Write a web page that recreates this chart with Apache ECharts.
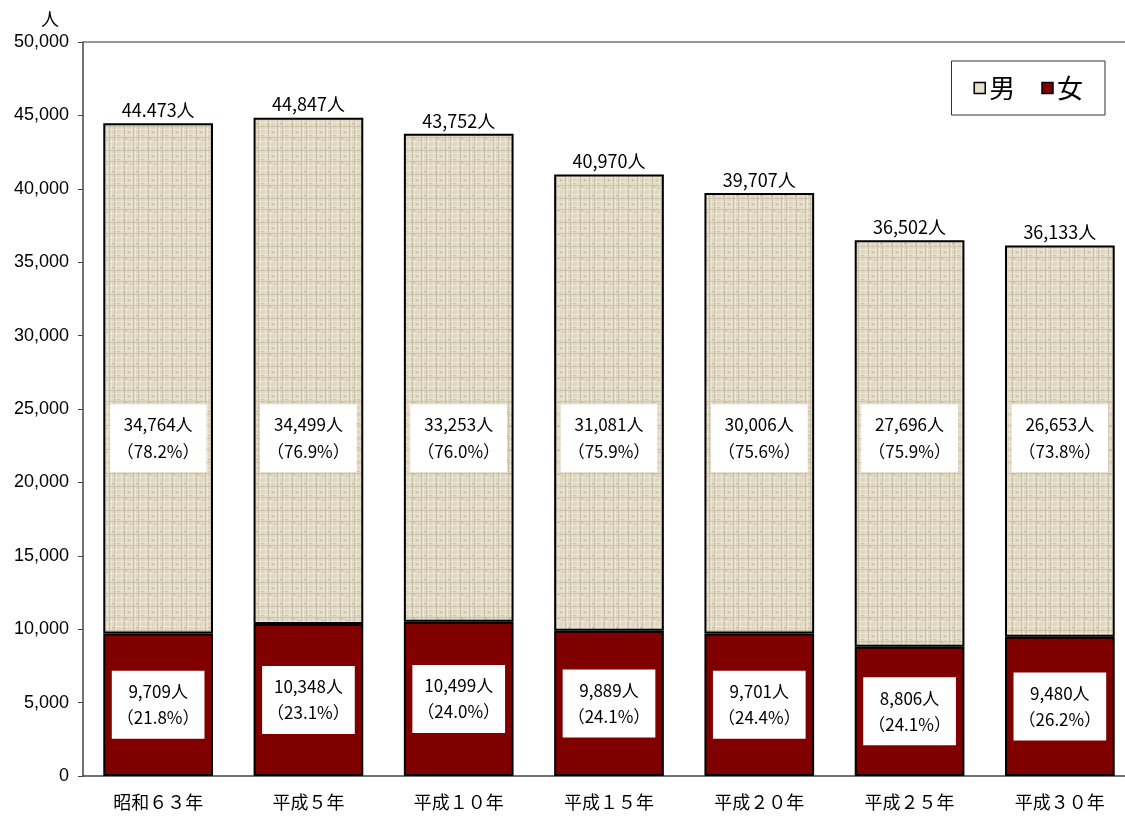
<!DOCTYPE html>
<html><head><meta charset="utf-8">
<script src="https://cdn.jsdelivr.net/npm/echarts@6/dist/echarts.min.js"></script>
<style>html,body{margin:0;padding:0;background:#fff;overflow:hidden}#c{width:1140px;height:816px}</style>
</head><body><div id="c"></div>
<script>
const categories = ['昭和６３年','平成５年','平成１０年','平成１５年','平成２０年','平成２５年','平成３０年'];
const female = [9709, 10348, 10499, 9889, 9701, 8806, 9480];
const male = [34764, 34499, 33253, 31081, 30006, 27696, 26653];
const femalePct = ['21.8','23.1','24.0','24.1','24.4','24.1','26.2'];
const malePct = ['78.2','76.9','76.0','75.9','75.6','75.9','73.8'];
const totalText = ['44.473','44,847','43,752','40,970','39,707','36,502','36,133'];
const maleLabelAnchor = 23000;
const yTicks = {min: 0, max: 50000, interval: 5000};

function fmt(n){ return n.toString().replace(/\B(?=(\d{3})+(?!\d))/g, ','); }

// beige linen texture
function makeTexture(){
  const c = document.createElement('canvas');
  c.width = 24; c.height = 24;
  const g = c.getContext('2d');
  g.fillStyle = '#ded6c0'; g.fillRect(0,0,24,24);
  g.fillStyle = '#ece6d6';
  [1,6,11,15,20].forEach(x => g.fillRect(x,0,1,24));
  [2,9,14,21].forEach(y => g.fillRect(0,y,24,1));
  g.fillStyle = '#cdc3aa';
  [4,13,18].forEach(x => g.fillRect(x,0,1,24));
  [6,17].forEach(y => g.fillRect(0,y,24,1));
  g.fillStyle = '#c2b79b';
  [[3,4],[8,12],[16,3],[21,15],[10,20],[5,18]].forEach(p => g.fillRect(p[0],p[1],2,1));
  return c;
}
const tex = makeTexture();
const font = '"Noto Sans CJK JP", "Noto Sans", sans-serif';

const chart = echarts.init(document.getElementById('c'), null, {renderer:'canvas'});
chart.setOption({
  animation: false,
  grid: {left: 83, right: 5, top: 42, bottom: 40},
  legend: {
    right: 35, top: 61,
    padding: [14, 22, 14, 22],
    borderColor: '#333', borderWidth: 1,
    itemWidth: 11, itemHeight: 11, itemGap: 26,
    icon: 'rect',
    textStyle: {fontSize: 26, color: '#000', fontFamily: font, padding: [0,0,0,-1]},
    data: [
      {name: '男', itemStyle: {color: '#e6dfcc', borderColor: '#000', borderWidth: 1.5}},
      {name: '女', itemStyle: {color: '#800000', borderColor: '#000', borderWidth: 1.5}}
    ]
  },
  xAxis: [{
    type: 'category', data: categories,
    axisLine: {lineStyle: {color: '#444', width: 1.5}},
    axisTick: {show: false},
    axisLabel: {fontSize: 18, color: '#000', fontFamily: font, margin: 17}
  },{
    type: 'category', data: categories, position: 'top',
    axisLine: {lineStyle: {color: '#777', width: 1.5}},
    axisTick: {show: false}, axisLabel: {show: false}
  }],
  yAxis: {
    type: 'value', min: yTicks.min, max: yTicks.max, interval: yTicks.interval,
    name: '人', nameLocation: 'end', nameGap: 14,
    nameTextStyle: {fontSize: 18, color: '#000', fontFamily: font, align: 'right', padding: [0, 24, 0, 0]},
    axisLine: {show: true, lineStyle: {color: '#444', width: 1.5}},
    axisTick: {show: true, inside: false, length: 5, lineStyle: {color: '#444'}},
    splitLine: {show: false},
    axisLabel: {fontSize: 18, color: '#000', fontFamily: '"Liberation Sans", Arial, sans-serif', margin: 14, formatter: v => fmt(v)}
  },
  series: [
    {
      name: '女', type: 'bar', stack: 't', barWidth: '73%',
      data: female,
      itemStyle: {color: '#800000', borderColor: '#000', borderWidth: 2},
      label: {
        show: true, position: 'inside',
        formatter: p => fmt(p.value) + '人\n（' + femalePct[p.dataIndex] + '%）',
        backgroundColor: '#fff', padding: [9, 5, 7, 5], lineHeight: 26,
        fontSize: 17, color: '#000', fontFamily: font
      }
    },
    {
      name: '男', type: 'bar', stack: 't', barWidth: '73%',
      data: male,
      itemStyle: {color: {image: tex, repeat: 'repeat'}, borderColor: '#000', borderWidth: 2},
      label: {
        show: true, position: 'top', distance: 4,
        formatter: p => totalText[p.dataIndex] + '人',
        fontSize: 18, color: '#000', fontFamily: font
      }
    },
    {
      name: 'maleLabel', type: 'scatter',
      data: male.map(() => maleLabelAnchor),
      symbolSize: 0, itemStyle: {color: '#fff', opacity: 1},
      silent: true, z: 5,
      label: {
        show: true, position: 'inside',
        formatter: p => fmt(male[p.dataIndex]) + '人\n（' + malePct[p.dataIndex] + '%）',
        backgroundColor: '#fff', padding: [8, 7, 6, 7], lineHeight: 27,
        fontSize: 17, color: '#000', fontFamily: font
      }
    }
  ]
});
</script></body></html>
